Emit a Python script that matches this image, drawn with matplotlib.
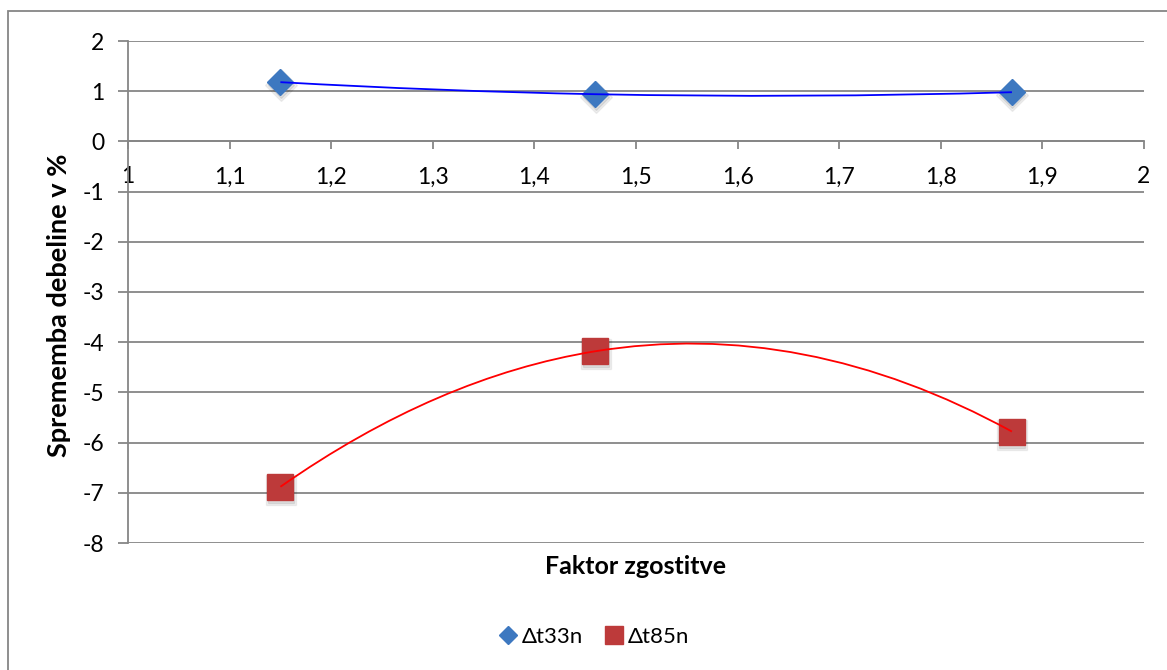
import numpy as np
import matplotlib.pyplot as plt
from matplotlib.path import Path
from matplotlib.patches import PathPatch, Rectangle
from matplotlib.lines import Line2D
from matplotlib.transforms import ScaledTranslation

plt.rcParams['font.family'] = ['Lato', 'DejaVu Sans']

# Measured points
faktor = [1.15, 1.46, 1.87]
dt33n = [1.18, 0.94, 0.98]
dt85n = [-6.88, -4.18, -5.78]
series_names = ['Δt33n', 'Δt85n']
x_ticks = [1.0, 1.1, 1.2, 1.3, 1.4, 1.5, 1.6, 1.7, 1.8, 1.9, 2.0]
y_ticks = [2, 1, 0, -1, -2, -3, -4, -5, -6, -7, -8]

grey = '#868686'

fig = plt.figure(figsize=(11.67, 6.70), dpi=100)
ax = fig.add_axes([128 / 1167, 1 - 543 / 670, (1144 - 128) / 1167, (543 - 41) / 670])


def smooth_path(xs, ys):
    # quadratic through the points, drawn as one bezier piece per interval
    c = np.polyfit(xs, ys, 2)
    d = np.polyder(c)
    verts = [(xs[0], ys[0])]
    codes = [Path.MOVETO]
    for a, b in zip(xs[:-1], xs[1:]):
        mid = (a + b) / 2
        verts.append((mid, np.polyval(c, a) + np.polyval(d, a) * (b - a) / 2))
        verts.append((b, np.polyval(c, b)))
        codes += [Path.CURVE3, Path.CURVE3]
    return Path(verts, codes)


styles = [
    (dt33n, 'D', 13, '#3d78c0', '#0000ff'),
    (dt85n, 's', 19, '#bd3a3a', '#ff0000'),
]
shadow = ax.transData + ScaledTranslation(0.5 / 100, -3 / 100, fig.dpi_scale_trans)
handles = []
for (ys, mk, ms, mc, lc), name in zip(styles, series_names):
    # soft drop shadow under the markers
    ax.plot(faktor, ys, linestyle='none', marker=mk, markersize=ms + 3,
            color='#000000', alpha=0.06, zorder=3, transform=shadow)
    ax.plot(faktor, ys, linestyle='none', marker=mk, markersize=ms,
            color='#000000', alpha=0.08, zorder=3, transform=shadow)
    ax.plot(faktor, ys, linestyle='none', marker=mk, markersize=ms,
            markerfacecolor=mc, markeredgecolor=mc, zorder=4)
    ax.add_patch(PathPatch(smooth_path(faktor, ys), facecolor='none',
                           edgecolor=lc, lw=1.3, zorder=5))
    handles.append(Line2D([], [], linestyle='none', marker=mk,
                          markersize=ms * 0.68, markerfacecolor=mc,
                          markeredgecolor=mc, label=name))

ax.set_xlim(1, 2)
ax.set_ylim(-8, 2)
ax.set_xticks(x_ticks)
ax.set_xticklabels([('%g' % v).replace('.', ',') for v in x_ticks])
ax.set_yticks(y_ticks)
ax.set_yticklabels([str(v) for v in y_ticks])

ax.spines['top'].set_visible(False)
ax.spines['right'].set_visible(False)
ax.spines['bottom'].set_position(('data', 0))
for s in ('left', 'bottom'):
    ax.spines[s].set_color(grey)
    ax.spines[s].set_linewidth(1.3)
ax.tick_params(axis='x', direction='out', length=6, width=1.3, color=grey,
               pad=12, labelsize=16.5, labelcolor='black')
ax.tick_params(axis='y', direction='out', length=7, width=1.3, color=grey,
               pad=10, labelsize=16.5, labelcolor='black')
ax.yaxis.grid(True, color=grey, lw=1.3)
ax.set_axisbelow(True)

fig.text(636 / 1167, 1 - 566 / 670, 'Faktor zgostitve', ha='center',
         va='center', fontsize=18, fontweight='bold')
fig.text(59 / 1167, 1 - 305 / 670, 'Sprememba debeline v %', ha='center',
         va='center', rotation=90, fontsize=19.5, fontweight='bold')

fig.legend(handles=handles, loc='center', bbox_to_anchor=(593 / 1167, 1 - 637 / 670),
           ncol=2, frameon=False, fontsize=16, handletextpad=0.1,
           columnspacing=0.9, handlelength=1.0)

# outer chart frame
fig.patches.append(Rectangle((8 / 1167, -0.2), 1.2, 1.2 - 11 / 670,
                             transform=fig.transFigure, facecolor='none',
                             edgecolor=grey, lw=1.3))

fig.savefig('out.png', dpi=100)
